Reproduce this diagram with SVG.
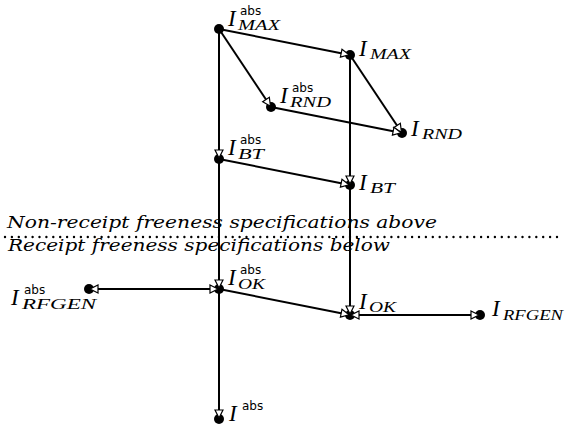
<svg xmlns="http://www.w3.org/2000/svg" width="565" height="427" viewBox="0 0 565 427">
<defs>
<marker id="ah" markerUnits="userSpaceOnUse" markerWidth="12" markerHeight="10" refX="9" refY="4" orient="auto-start-reverse" viewBox="-1 -1 12 10">
<path d="M0,0 L8,4 L0,8 z" fill="#fff" stroke="#000" stroke-width="1.2"/>
</marker>
</defs>
<style>
.dot{fill:#000}
.e{stroke:#000;stroke-width:2;fill:none;marker-end:url(#ah)}
.b{marker-start:url(#ah)}
.I{font-family:"Liberation Serif",serif;font-style:italic;font-size:23px;fill:#000}
.s{font-family:"Liberation Serif",serif;font-style:italic;font-size:14px;fill:#000}
.a{font-family:"DejaVu Sans",sans-serif;font-size:12px;fill:#000}
.t{font-family:"DejaVu Serif",serif;font-style:italic;font-size:17px;fill:#000}
</style>
<rect width="565" height="427" fill="#fff"/>
<g id="divider">
<text class="t" x="7" y="228" textLength="430" lengthAdjust="spacingAndGlyphs">Non-receipt freeness specifications above</text>
<line x1="5" y1="237" x2="562" y2="237" stroke="#000" stroke-width="2.4" stroke-linecap="round" stroke-dasharray="0 6.9"/>
<text class="t" x="8" y="251" textLength="382" lengthAdjust="spacingAndGlyphs">Receipt freeness specifications below</text>
</g>
<g id="n-max-abs"><circle class="dot" cx="219" cy="29" r="5"/><text class="I" x="228" y="26">I</text><text class="a" x="240" y="15">abs</text><text class="s" x="238" y="30" textLength="42" lengthAdjust="spacingAndGlyphs">MAX</text></g>
<g id="n-max"><circle class="dot" cx="350" cy="55" r="5"/><text class="I" x="359" y="56">I</text><text class="s" x="370" y="59" textLength="41" lengthAdjust="spacingAndGlyphs">MAX</text></g>
<g id="n-rnd-abs"><circle class="dot" cx="271" cy="107" r="5"/><text class="I" x="280" y="103">I</text><text class="a" x="292" y="92">abs</text><text class="s" x="290" y="107" textLength="41" lengthAdjust="spacingAndGlyphs">RND</text></g>
<g id="n-rnd"><circle class="dot" cx="402" cy="133" r="5"/><text class="I" x="411" y="136">I</text><text class="s" x="422" y="139" textLength="40" lengthAdjust="spacingAndGlyphs">RND</text></g>
<g id="n-bt-abs"><circle class="dot" cx="219" cy="159" r="5"/><text class="I" x="228" y="155">I</text><text class="a" x="240" y="144">abs</text><text class="s" x="238" y="159" textLength="26" lengthAdjust="spacingAndGlyphs">BT</text></g>
<g id="n-bt"><circle class="dot" cx="350" cy="185" r="5"/><text class="I" x="359" y="190">I</text><text class="s" x="370" y="193" textLength="25" lengthAdjust="spacingAndGlyphs">BT</text></g>
<g id="n-ok-abs"><circle class="dot" cx="219" cy="289" r="5"/><text class="I" x="228" y="285">I</text><text class="a" x="240" y="274">abs</text><text class="s" x="238" y="289" textLength="27" lengthAdjust="spacingAndGlyphs">OK</text></g>
<g id="n-ok"><circle class="dot" cx="350" cy="315" r="5"/><text class="I" x="359" y="309">I</text><text class="s" x="369" y="312" textLength="27" lengthAdjust="spacingAndGlyphs">OK</text></g>
<g id="n-rfgen-abs"><circle class="dot" cx="89" cy="289" r="5"/><text class="I" x="11" y="305">I</text><text class="a" x="24" y="294">abs</text><text class="s" x="22" y="309" textLength="74" lengthAdjust="spacingAndGlyphs">RFGEN</text></g>
<g id="n-rfgen"><circle class="dot" cx="480" cy="315" r="5"/><text class="I" x="492" y="316">I</text><text class="s" x="503" y="320" textLength="60" lengthAdjust="spacingAndGlyphs">RFGEN</text></g>
<g id="n-abs"><circle class="dot" cx="219" cy="419" r="5"/><text class="I" x="229" y="421">I</text><text class="a" x="242" y="410">abs</text></g>
<g id="connectors">
<line class="e" x1="219" y1="29" x2="350" y2="55"/>
<line class="e" x1="219" y1="29" x2="271" y2="107"/>
<line class="e" x1="219" y1="29" x2="219" y2="159"/>
<line class="e" x1="350" y1="55" x2="402" y2="133"/>
<line class="e" x1="350" y1="55" x2="350" y2="185"/>
<line class="e" x1="271" y1="107" x2="402" y2="133"/>
<line class="e" x1="219" y1="159" x2="350" y2="185"/>
<line class="e" x1="219" y1="159" x2="219" y2="289"/>
<line class="e" x1="350" y1="185" x2="350" y2="315"/>
<line class="e" x1="219" y1="289" x2="350" y2="315"/>
<line class="e b" x1="219" y1="289" x2="89" y2="289"/>
<line class="e b" x1="350" y1="315" x2="480" y2="315"/>
<line class="e" x1="219" y1="289" x2="219" y2="419"/>
</g>
</svg>
